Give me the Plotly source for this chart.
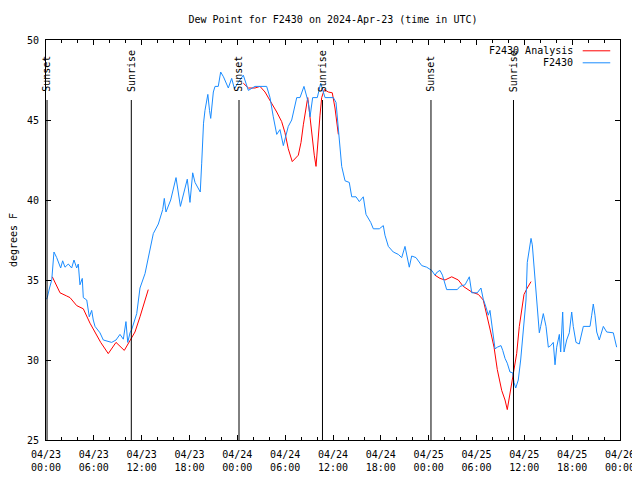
import pandas as pd
import plotly.graph_objects as go

START = pd.Timestamp("2024-04-23 00:00")

# Observed dew point (F2430): hours since 04/23 00:00 UTC, degrees F
obs_hours = [0.06, 0.16, 0.44, 0.72, 1.00, 1.34, 1.84, 2.09, 2.38, 2.80, 3.22, 3.51, 3.85, 4.05,
             4.26, 4.55, 4.68, 5.11, 5.43, 5.73, 5.93, 6.15, 6.77, 7.19, 8.24, 8.78, 9.28, 9.70,
             10.03, 10.25, 10.54, 10.75, 11.38, 11.79, 12.42, 13.05, 13.46, 14.09, 14.64, 14.84,
             15.05, 15.64, 16.31, 16.86, 17.31, 17.72, 18.06, 18.40, 18.69, 19.35, 19.53, 19.76,
             19.94, 20.30, 20.51, 20.66, 20.99, 21.20, 21.61, 21.91, 22.26, 22.87, 23.29, 23.64,
             24.12, 24.75, 25.38, 26.22, 27.68, 28.10, 28.51, 28.94, 29.35, 29.77, 30.39, 30.82,
             31.45, 31.86, 32.36, 32.90, 33.12, 33.45, 34.03, 34.46, 35.00, 36.04, 36.38, 36.67,
             37.09, 37.51, 38.04, 38.35, 38.89, 39.30, 39.80, 40.14, 40.73, 41.06, 41.81, 42.31,
             42.52, 42.94, 43.56, 44.19, 44.62, 45.03, 45.32, 45.57, 45.87, 46.41, 47.13, 47.75,
             48.38, 48.79, 49.08, 49.42, 49.73, 50.26, 51.59, 51.93, 52.56, 53.10, 53.40, 54.10,
             54.56, 54.85, 55.19, 55.48, 55.69, 55.91, 56.20, 56.32, 56.61, 57.07, 57.29, 57.58,
             57.86, 58.20, 58.54, 58.70, 58.92, 59.24, 59.54, 59.87, 60.21, 60.37, 60.62, 60.84,
             61.00, 61.21, 61.46, 61.63, 61.88, 62.05, 62.38, 62.72, 63.01, 63.31, 63.63, 63.85,
             64.06, 64.39, 64.56, 64.81, 64.98, 65.31, 65.64, 65.94, 66.14, 66.48, 66.89, 67.40,
             68.24, 68.45, 68.65, 68.86, 69.08, 69.40, 69.91, 70.33, 71.16, 71.58]
obs_values = [33.8, 33.9, 34.5, 35.0, 36.75, 36.4, 35.75, 36.2, 35.8, 36.0, 35.75, 36.25, 35.75, 36.0,
              34.7, 35.1, 33.9, 33.75, 32.7, 33.1, 32.5, 32.1, 31.7, 31.25, 31.1, 31.25, 31.6, 31.3,
              32.4, 31.1, 31.7, 31.9, 32.9, 34.5, 35.4, 36.9, 37.9, 38.5, 39.4, 40.1,
              39.25, 40.0, 41.4, 39.6, 40.4, 41.3, 39.85, 41.7, 41.1, 40.5, 42.3, 44.8,
              45.6, 46.6, 45.6, 45.1, 46.75, 47.1, 47.1, 48.0, 47.7, 47.0, 47.6, 46.95,
              47.35, 47.8, 46.85, 47.1, 47.1, 46.4, 45.2, 44.1, 44.4, 43.4, 44.6, 45.0,
              46.4, 46.4, 47.1, 46.1, 45.2, 46.4, 46.4, 47.3, 46.4, 46.4, 46.1, 44.25,
              42.1, 41.2, 41.1, 40.2, 40.2, 39.9, 40.2, 39.1, 38.6, 38.2, 38.2, 38.4,
              37.8, 37.1, 36.75, 36.6, 36.4, 37.1, 36.4, 35.8, 36.5, 36.4, 35.9, 35.8,
              35.6, 35.3, 35.5, 35.6, 35.3, 34.4, 34.4, 34.6, 34.7, 35.2, 34.2, 34.2,
              34.5, 33.8, 33.3, 32.8, 33.1, 32.3, 31.4, 30.7, 30.8, 30.9, 30.6, 30.1,
              29.8, 29.25, 29.2, 28.6, 28.25, 28.75, 30.0, 31.7, 33.75, 36.1, 36.9, 37.6,
              37.2, 35.8, 34.4, 33.25, 31.7, 32.1, 32.9, 32.1, 30.8, 30.9, 31.1, 29.7,
              30.8, 31.6, 30.5, 33.0, 30.5, 31.25, 31.7, 33.0, 32.1, 31.1, 31.0, 32.1,
              32.1, 32.8, 33.5, 32.8, 31.75, 31.25, 32.1, 31.75, 31.7, 30.8]

# Analysis (F2430 Analysis): None marks gaps
ana_hours = [0.79, 1.76, 2.60, 3.01, 3.85, 4.68, 5.52, 6.86, 7.81, 8.78, 9.82, 10.62, 11.16, 11.79,
             12.42, 12.83, 18.0,
             24.75, 25.38, 26.22, 26.84, 27.47, 28.10, 28.94, 29.56, 29.98, 30.39, 30.89, 31.65,
             31.99, 32.28, 32.58, 32.83, 32.99, 33.33, 33.65, 33.87, 34.08, 34.37, 34.58, 34.91,
             35.41, 35.91, 36.25, 36.67, 42.0,
             48.79, 49.42, 50.05, 50.89, 51.72, 52.34, 53.40, 54.23, 54.85, 55.28, 55.78, 56.20,
             56.61, 57.16, 57.58, 57.86, 58.11, 58.42, 58.70, 59.04, 59.37, 59.67, 59.96, 60.37,
             60.84]
ana_values = [35.2, 34.2, 34.0, 33.9, 33.4, 33.2, 32.3, 31.1, 30.4, 31.1, 30.6, 31.25, 31.75, 32.7,
              33.75, 34.4, None,
              47.3, 47.0, 47.0, 47.1, 46.75, 46.25, 45.5, 44.9, 44.2, 43.2, 42.4, 42.8,
              43.6, 44.7, 45.8, 46.4, 45.75, 44.1, 42.8, 42.1, 43.6, 45.3, 46.4, 46.9,
              46.75, 46.7, 45.75, 44.1, None,
              35.3, 35.1, 35.0, 35.2, 35.0, 34.6, 34.25, 34.1, 33.75, 32.9, 31.75, 30.8,
              29.4, 28.1, 27.5, 26.9, 27.6, 28.6, 29.4, 30.4, 32.1, 33.1, 34.1, 34.5,
              34.9]

# Sun events (hours since start)
sun_labels = ["Sunset", "Sunrise", "Sunset", "Sunrise", "Sunset", "Sunrise"]
sun_hours = [0.13, 10.70, 24.21, 34.68, 48.29, 58.64]

# Tick labels
tick_hours = [0, 6, 12, 18, 24, 30, 36, 42, 48, 54, 60, 66, 72]
tick_text = ["04/23<br>00:00", "04/23<br>06:00", "04/23<br>12:00", "04/23<br>18:00",
             "04/24<br>00:00", "04/24<br>06:00", "04/24<br>12:00", "04/24<br>18:00",
             "04/25<br>00:00", "04/25<br>06:00", "04/25<br>12:00", "04/25<br>18:00",
             "04/26<br>00:00"]

def t(h):
    return START + pd.Timedelta(hours=h)

FONT = "DejaVu Sans Mono"
RED = "#ff0000"
BLUE = "#1a8cff"

fig = go.Figure()
fig.add_trace(go.Scatter(x=[t(h) for h in ana_hours], y=ana_values, mode="lines",
                         line=dict(color=RED, width=1), name="F2430 Analysis",
                         connectgaps=False, showlegend=False))
fig.add_trace(go.Scatter(x=[t(h) for h in obs_hours], y=obs_values, mode="lines",
                         line=dict(color=BLUE, width=1), name="F2430", showlegend=False))

for lab, h in zip(sun_labels, sun_hours):
    fig.add_shape(type="line", xref="x", yref="y", x0=t(h), x1=t(h), y0=25, y1=46.25,
                  line=dict(color="black", width=1))
    fig.add_annotation(x=t(h), y=46.7, xref="x", yref="y", text=lab, textangle=-90,
                       showarrow=False, xanchor="center", yanchor="bottom", borderpad=0,
                       font=dict(family=FONT, size=10, color="black"))

# Legend drawn gnuplot-style (text right-aligned, sample line on right)
for i, (name, col) in enumerate([("F2430 Analysis", RED), ("F2430", BLUE)]):
    yy = 0.973 - i * 0.03
    fig.add_annotation(x=0.922, y=yy, xref="paper", yref="paper", text=name,
                       showarrow=False, xanchor="right", yanchor="middle",
                       font=dict(family=FONT, size=10, color="black"))
    fig.add_shape(type="line", xref="paper", yref="paper", x0=0.935, x1=0.983, y0=yy, y1=yy,
                  line=dict(color=col, width=1))

# The page body adds an 8px offset, so the figure is 8px smaller and margins shifted.
fig.update_layout(
    width=632, height=472,
    margin=dict(l=38, r=20, t=32, b=40),
    paper_bgcolor="white", plot_bgcolor="white",
    font=dict(family=FONT, size=10, color="black"),
    title=dict(text="Dew Point for F2430 on 2024-Apr-23 (time in UTC)", x=0.5, xref="paper",
               xanchor="center", y=0.975, yanchor="middle", automargin=False,
               font=dict(family=FONT, size=10)),
    showlegend=False,
)
fig.update_xaxes(
    range=[t(0), t(72)], tickvals=[t(h) for h in tick_hours], ticktext=tick_text,
    ticks="inside", ticklen=5, tickcolor="black", showgrid=False, zeroline=False,
    showline=True, linecolor="black", linewidth=1, mirror="allticks", automargin=False,
    minor=dict(dtick=2 * 3600 * 1000, ticks="inside", ticklen=3, tickcolor="black", showgrid=False),
    tickfont=dict(family=FONT, size=10), ticklabelstandoff=5,
)
fig.update_yaxes(
    range=[25, 50], dtick=5, tick0=25, ticks="inside", ticklen=5, tickcolor="black",
    showgrid=False, zeroline=False, showline=True, linecolor="black", linewidth=1,
    mirror="allticks", tickfont=dict(family=FONT, size=10), automargin=False,
    ticklabelstandoff=4,
    title=dict(text="degrees F", font=dict(family=FONT, size=10), standoff=14),
)

fig.write_html("out.html")
